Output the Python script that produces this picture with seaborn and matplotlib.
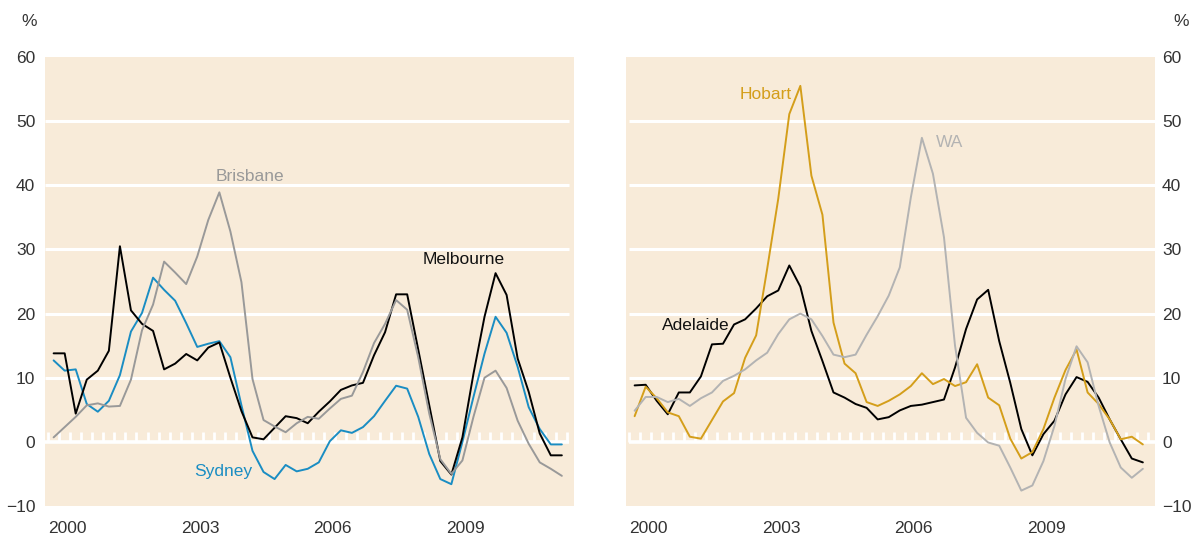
import numpy as np
import pandas as pd
import matplotlib
matplotlib.use('Agg')
import matplotlib.pyplot as plt
import seaborn as sns
from matplotlib import font_manager

# quarterly, 2000:Q1 to 2011:Q3, plotted at mid-quarter
quarters = pd.period_range('2000Q1', '2011Q3', freq='Q')
t = np.array([q.year + (q.quarter - 1) * 0.25 + 0.125 for q in quarters])

sydney = [12.7, 11.1, 11.3, 5.9, 4.7, 6.4, 10.4, 17.2, 20.1, 25.6,
          23.7, 22.0, 18.5, 14.8, 15.3, 15.7, 13.2, 5.7, -1.4, -4.7,
          -5.8, -3.6, -4.6, -4.2, -3.2, 0.1, 1.8, 1.4, 2.3, 4.0,
          6.4, 8.75, 8.3, 3.9, -1.9, -5.8, -6.6, 0.0, 7.0, 13.75,
          19.5, 17.0, 11.7, 5.4, 2.0, -0.4, -0.4]
melbourne = [13.8, 13.8, 4.4, 9.7, 11.1, 14.2, 30.5, 20.5, 18.4, 17.3,
             11.3, 12.2, 13.7, 12.7, 14.7, 15.5, 10.0, 4.8, 0.7, 0.4,
             2.2, 4.0, 3.7, 2.9, 4.7, 6.3, 8.1, 8.8, 9.2, 13.5,
             17.1, 23.0, 23.0, 14.4, 5.7, -3.0, -5.1, 0.7, 10.6, 19.5,
             26.3, 22.9, 13.0, 7.8, 1.3, -2.1, -2.1]
brisbane = [0.7, 2.3, 3.9, 5.7, 6.0, 5.5, 5.6, 9.7, 17.4, 21.4,
            28.1, 26.4, 24.6, 28.9, 34.6, 38.9, 32.8, 24.9, 9.8, 3.4,
            2.4, 1.5, 2.9, 3.9, 3.6, 5.2, 6.7, 7.2, 10.9, 15.4,
            18.4, 22.1, 20.6, 13.2, 4.4, -2.7, -5.0, -2.9, 3.9, 10.0,
            11.1, 8.4, 3.3, -0.3, -3.2, -4.2, -5.3]
adelaide = [8.8, 8.9, 6.4, 4.3, 7.7, 7.7, 10.2, 15.2, 15.3, 18.3,
            19.1, 20.8, 22.7, 23.6, 27.5, 24.2, 17.3, 12.6, 7.7, 6.9,
            5.9, 5.3, 3.5, 3.85, 4.9, 5.6, 5.8, 6.2, 6.6, 11.6,
            17.6, 22.2, 23.7, 15.7, 9.2, 2.0, -2.1, 1.2, 3.3, 7.4,
            10.1, 9.35, 6.9, 3.5, 0.4, -2.6, -3.2]
hobart = [4.0, 8.6, 6.8, 4.6, 4.0, 0.8, 0.5, 3.4, 6.3, 7.6,
          13.1, 16.6, 27.0, 37.9, 51.1, 55.5, 41.5, 35.4, 18.6, 12.2,
          10.7, 6.2, 5.6, 6.4, 7.4, 8.7, 10.7, 9.0, 9.8, 8.7,
          9.3, 12.1, 6.9, 5.7, 0.5, -2.6, -1.6, 2.0, 6.9, 11.2,
          14.4, 7.7, 5.9, 3.5, 0.4, 0.8, -0.4]
wa = [4.85, 7.0, 7.0, 6.2, 6.7, 5.6, 6.8, 7.7, 9.5, 10.3,
      11.3, 12.7, 13.9, 16.8, 19.1, 20.0, 19.1, 16.5, 13.6, 13.2,
      13.6, 16.7, 19.6, 22.8, 27.2, 38.1, 47.4, 41.8, 31.9, 15.0,
      3.75, 1.4, -0.1, -0.6, -4.0, -7.6, -6.8, -3.0, 2.5, 9.8,
      14.9, 12.4, 5.6, -0.1, -4.0, -5.6, -4.2]

year_ticks = [2000, 2003, 2006, 2009]
y_ticks = [-10, 0, 10, 20, 30, 40, 50, 60]

BG = '#F8EBD9'
TXT = '#333333'
colors = {'Sydney': '#1A8DC3', 'Melbourne': '#000000', 'Brisbane': '#999999',
          'Adelaide': '#000000', 'Hobart': '#D49E1A', 'WA': '#B3B3B3'}

sns.set_style('white')
names = {f.name for f in font_manager.fontManager.ttflist}
if 'Liberation Sans Narrow' in names:
    fam, fs = 'Liberation Sans Narrow', 13.5
else:
    fam, fs = 'Liberation Sans', 12.5
plt.rcParams['font.family'] = [fam, 'DejaVu Sans']

left = pd.DataFrame({'t': np.tile(t, 3),
                     'value': sydney + melbourne + brisbane,
                     'city': ['Sydney'] * 47 + ['Melbourne'] * 47 + ['Brisbane'] * 47})
right = pd.DataFrame({'t': np.tile(t, 3),
                      'value': adelaide + hobart + wa,
                      'city': ['Adelaide'] * 47 + ['Hobart'] * 47 + ['WA'] * 47})

fig = plt.figure(figsize=(11.95, 5.4), dpi=100)
ax1 = fig.add_axes([45 / 1195, 34 / 540, 529 / 1195, 449 / 540])
ax2 = fig.add_axes([626 / 1195, 34 / 540, 529 / 1195, 449 / 540])

x0, x1 = 1999.93, 2011.9
quarter_marks = np.arange(2000, 2011.8, 0.25)

for ax, df, side in [(ax1, left, 'left'), (ax2, right, 'right')]:
    ax.set_facecolor(BG)
    for s in ax.spines.values():
        s.set_visible(False)
    ax.set_xlim(x0, x1)
    ax.set_ylim(-10, 60)
    if side == 'left':
        gx0, gx1 = x0, 2011.78
    else:
        gx0, gx1 = 2000.0, x1
    ax.hlines([10, 20, 30, 40, 50], gx0, gx1, color='white', lw=2.2, zorder=1)
    ax.hlines(0, gx0, gx1, color='white', lw=2.6, zorder=1)
    ax.vlines(quarter_marks, 0, 1.5, color='white', lw=2, zorder=1)

    sns.lineplot(data=df, x='t', y='value', hue='city', palette=colors,
                 legend=False, lw=1.4, ax=ax, zorder=3)
    ax.set_xlabel('')
    ax.set_ylabel('')

    ax.set_xticks(year_ticks)
    ax.set_xticklabels([str(y) for y in year_ticks], ha='left')
    ax.set_yticks(y_ticks)
    ax.set_yticklabels(['\u221210' if v < 0 else str(v) for v in y_ticks])
    ax.tick_params(axis='both', length=0, labelsize=fs, colors=TXT)
    ax.tick_params(axis='x', pad=11)
    if side == 'right':
        ax.yaxis.tick_right()
        ax.tick_params(axis='y', pad=5)
    else:
        ax.tick_params(axis='y', pad=7)

ax1.text(2004.57, 41.3, 'Brisbane', color=colors['Brisbane'], fontsize=fs, ha='center', va='center')
ax1.text(2009.41, 28.4, 'Melbourne', color='#111111', fontsize=fs, ha='center', va='center')
ax1.text(2003.96, -4.6, 'Sydney', color=colors['Sydney'], fontsize=fs, ha='center', va='center')
ax2.text(2003.1, 54.2, 'Hobart', color=colors['Hobart'], fontsize=fs, ha='center', va='center')
ax2.text(2007.25, 46.7, 'WA', color=colors['WA'], fontsize=fs, ha='center', va='center')
ax2.text(2001.5, 18.1, 'Adelaide', color='#111111', fontsize=fs, ha='center', va='center')

fig.text(29 / 1195, 1 - 22 / 540, '%', color=TXT, fontsize=fs, ha='center', va='center')
fig.text(1181 / 1195, 1 - 22 / 540, '%', color=TXT, fontsize=fs, ha='center', va='center')

fig.savefig('out.png', dpi=100, facecolor='white')
